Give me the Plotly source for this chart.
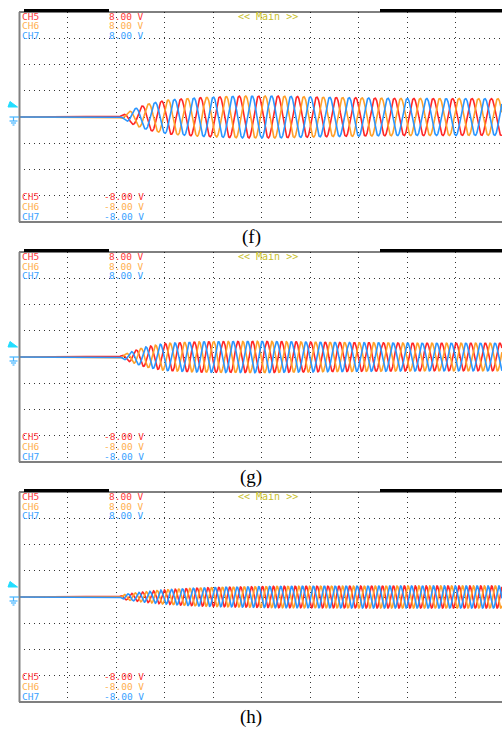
import numpy as np
import plotly.graph_objects as go

W, H = 502, 729

# ---------------- data ----------------
panel_labels = ["(f)", "(g)", "(h)"]
channel_names = ["CH5", "CH6", "CH7"]
top_values = ["8.00 V", "8.00 V", "8.00 V"]
bottom_values = ["-8.00 V", "-8.00 V", "-8.00 V"]
phase_deg = [0, -120, 120]           # three-phase offsets (red, orange, blue)

# start of oscillation (divisions) per panel
start_div = [2.04, 2.04, 2.04]
# period of oscillation (divisions) per panel
period_div = [0.40, 0.30, 0.225]

# amplitude envelope knots (x in divisions, amplitude in divisions)
env1_x = [2.04, 2.18, 2.39, 2.70, 3.11, 3.73, 4.56, 5.38, 6.41, 7.86, 9.96]
env1_a = [0.00, 0.12, 0.32, 0.52, 0.66, 0.74, 0.80, 0.80, 0.75, 0.71, 0.70]
env2_x = [2.04, 2.29, 2.60, 3.01, 3.73, 4.97, 6.41, 8.27, 9.96]
env2_a = [0.00, 0.19, 0.38, 0.52, 0.58, 0.60, 0.56, 0.53, 0.53]
env3_x = [2.04, 2.18, 2.49, 2.91, 3.53, 4.14, 5.38, 7.86, 9.96]
env3_a = [0.00, 0.10, 0.18, 0.26, 0.33, 0.37, 0.41, 0.42, 0.42]
env_x = [env1_x, env2_x, env3_x]
env_a = [env1_a, env2_a, env3_a]

# ---------------- styling ----------------
wave_colors = ["#ff2626", "#ffa02a", "#2a96ff"]
text_colors = ["#ff3a3a", "#ffb050", "#3aa2ff"]
main_color = "#c8c02a"
mono = "DejaVu Sans Mono"

panel_tops = [12, 252, 492]
panel_h = 210
x_left = 19
div_px = 48.5
x_max = (W - x_left) / div_px


def px(x):
    return x / W


def py(y):
    return 1 - y / H


fig = go.Figure()
shapes = []
annotations = []

xs = np.arange(0, x_max + 1e-9, 0.003)

for i in range(3):
    T = panel_tops[i]
    B = T + panel_h
    Z = T + panel_h / 2
    xa = "x" if i == 0 else f"x{i+1}"
    ya = "y" if i == 0 else f"y{i+1}"
    axn = "" if i == 0 else str(i + 1)

    env = np.interp(xs, env_x[i], env_a[i], left=0.0)
    for c in range(3):
        ph = np.deg2rad(phase_deg[c])
        arg = 2 * np.pi * (xs - start_div[i]) / period_div[i] + ph
        y = np.where(xs >= start_div[i], env * np.sin(arg), 0.0)
        fig.add_trace(go.Scatter(x=xs, y=y, mode="lines",
                                 line=dict(color=wave_colors[c], width=1.6),
                                 xaxis=xa, yaxis=ya, showlegend=False,
                                 hoverinfo="skip"))

    fig.layout["xaxis" + axn] = dict(
        domain=[x_left / W, 1], range=[0, x_max], anchor=ya,
        showgrid=True, gridcolor="#333", gridwidth=1, griddash="1px,4px",
        dtick=1, tick0=0, showticklabels=False, ticks="", zeroline=False,
        showline=False, fixedrange=True)
    fig.layout["yaxis" + axn] = dict(
        domain=[py(B), py(T)], range=[-4, 4], anchor=xa,
        showgrid=True, gridcolor="#333", gridwidth=1, griddash="1px,4px",
        dtick=1, tick0=0, showticklabels=False, ticks="", zeroline=False,
        showline=False, fixedrange=True)

    # frame
    shapes.append(dict(type="line", xref="paper", yref="paper",
                       x0=px(x_left), x1=1, y0=py(T), y1=py(T),
                       line=dict(color="black", width=1)))
    shapes.append(dict(type="line", xref="paper", yref="paper",
                       x0=px(x_left), x1=1, y0=py(B), y1=py(B),
                       line=dict(color="black", width=1.2)))
    shapes.append(dict(type="rect", xref="paper", yref="paper",
                       x0=px(24), x1=px(109), y0=py(T), y1=py(T - 3),
                       fillcolor="black", line=dict(width=0)))
    shapes.append(dict(type="rect", xref="paper", yref="paper",
                       x0=px(380), x1=1, y0=py(T), y1=py(T - 3),
                       fillcolor="black", line=dict(width=0)))
    shapes.append(dict(type="line", xref="paper", yref="paper",
                       x0=px(19.5), x1=px(19.5), y0=py(T), y1=py(B),
                       line=dict(color="#808080", width=2)))
    # trigger marker
    ty = Z - 12.5
    shapes.append(dict(type="path", xref="paper", yref="paper",
                       path=f"M {px(10)},{py(ty-3)} L {px(17.5)},{py(ty+2.5)} L {px(8)},{py(ty+2.5)} Z",
                       fillcolor="#22ddff", line=dict(color="#22ddff", width=1)))
    # ground marker
    gcol = "#44b4ff"
    for (x0, x1, yy) in [(9.5, 19, Z), (9.5, 17.5, Z + 4), (11, 16, Z + 6), (12.5, 14.5, Z + 8)]:
        shapes.append(dict(type="line", xref="paper", yref="paper",
                           x0=px(x0), x1=px(x1), y0=py(yy), y1=py(yy),
                           line=dict(color=gcol, width=1.2)))
    shapes.append(dict(type="line", xref="paper", yref="paper",
                       x0=px(13.5), x1=px(13.5), y0=py(Z), y1=py(Z + 4),
                       line=dict(color=gcol, width=1.2)))

    # channel texts
    top_rows = [T + 4.3, T + 14, T + 23.6]
    bot_rows = [B - 25.5, B - 15.8, B - 6]
    for c in range(3):
        for rows, vals in [(top_rows, top_values), (bot_rows, bottom_values)]:
            annotations.append(dict(xref="paper", yref="paper", x=px(20), y=py(rows[c]),
                                    text=channel_names[c], showarrow=False,
                                    xanchor="left", yanchor="middle",
                                    font=dict(family=mono, size=9.5, color=text_colors[c])))
            annotations.append(dict(xref="paper", yref="paper", x=px(146), y=py(rows[c]),
                                    text=vals[c], showarrow=False,
                                    xanchor="right", yanchor="middle",
                                    font=dict(family=mono, size=9.5, color=text_colors[c])))
    annotations.append(dict(xref="paper", yref="paper", x=px(236), y=py(T + 4.5),
                            text="&lt;&lt; Main &gt;&gt;", showarrow=False,
                            xanchor="left", yanchor="middle",
                            font=dict(family=mono, size=10, color=main_color)))
    # panel label
    annotations.append(dict(xref="paper", yref="paper", x=px(251), y=py(B + 15),
                            text=panel_labels[i], showarrow=False,
                            xanchor="center", yanchor="middle",
                            font=dict(family="Liberation Serif", size=19, color="black")))

fig.update_layout(width=W, height=H, margin=dict(l=0, r=0, t=0, b=0),
                  paper_bgcolor="white", plot_bgcolor="white",
                  shapes=shapes, annotations=annotations, showlegend=False)

fig.write_html("out.html")
